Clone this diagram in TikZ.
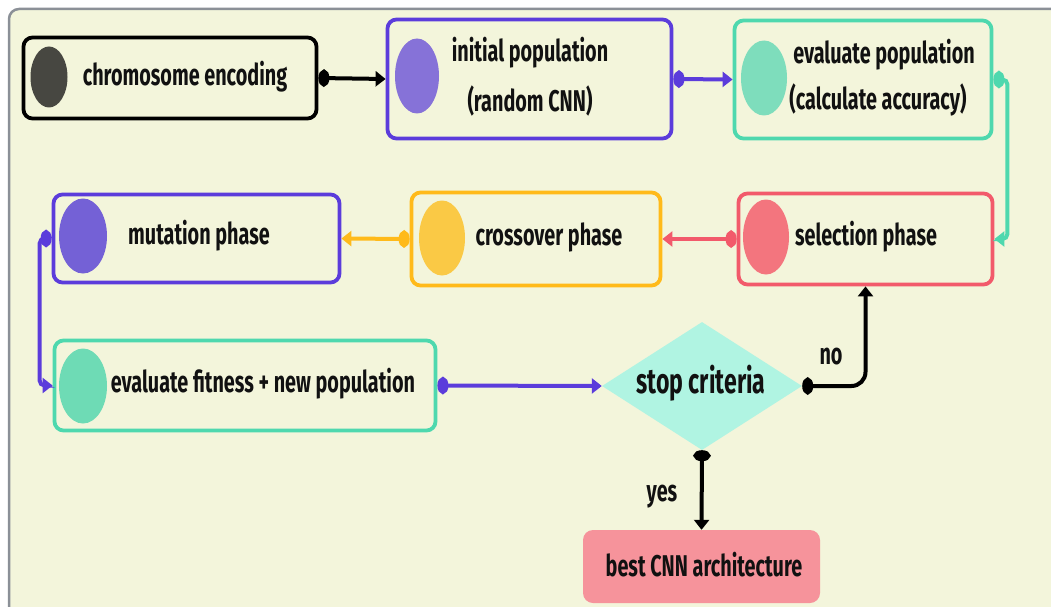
\documentclass[tikz,border=0pt]{standalone}
\usepackage{fontspec}
\setmainfont{Fira Sans}[FakeStretch=0.66]
\usetikzlibrary{arrows.meta,shapes.geometric}

\definecolor{bg}{HTML}{F3F5DB}
\definecolor{framegray}{HTML}{8B9097}
\definecolor{ink}{HTML}{111111}
\definecolor{dark}{HTML}{474741}
\definecolor{violet}{HTML}{5B3CDB}
\definecolor{violetA}{HTML}{8672D8}
\definecolor{violetB}{HTML}{7461D6}
\definecolor{teal}{HTML}{4ED8AE}
\definecolor{tealA}{HTML}{7EDDBC}
\definecolor{tealB}{HTML}{6EDBB5}
\definecolor{coral}{HTML}{F25A6B}
\definecolor{coralA}{HTML}{F3757E}
\definecolor{amber}{HTML}{FFBA1A}
\definecolor{amberA}{HTML}{FAC945}
\definecolor{mint}{HTML}{B0F4E2}
\definecolor{rose}{HTML}{F6939B}

\tikzset{
  stage/.style={draw=#1, line width=3.8pt, rounded corners=9pt, fill=bg, inner sep=0pt},
  blob/.style={ellipse, fill=#1, minimum width=46pt, minimum height=75pt, inner sep=0pt},
  caption/.style={text=ink, font=\fontsize{30}{35}\selectfont\bfseries, align=center, inner sep=0pt},
  link/.style={draw=#1, line width=4pt,
    {Ellipse[length=11pt,width=17pt]}-{Triangle[length=10pt,width=15pt]}},
}

\begin{document}
\begin{tikzpicture}[x=1pt,y=-1pt]
\useasboundingbox (0,0) rectangle (1051,607);
\fill[white] (0,0) rectangle (1051,607);
\begin{scope}
  \clip (0,0) rectangle (1051,607);
  \draw[framegray, line width=2.5pt, fill=bg, rounded corners=10pt] (9,9) rectangle (1080,625);
\end{scope}

% process boxes
\node[stage=black,  minimum width=293pt, minimum height=81pt]  (chrom) at (170,78) {};
\node[stage=violet, minimum width=284pt, minimum height=119pt] (init)  at (529.5,79) {};
\node[stage=teal,   minimum width=257pt, minimum height=118pt] (evalp) at (863,79.5) {};
\node[stage=coral,  minimum width=254pt, minimum height=91pt]  (sel)   at (865.5,239) {};
\node[stage=amber,  minimum width=249pt, minimum height=93pt]  (cross) at (536,239) {};
\node[stage=violet, minimum width=286pt, minimum height=88pt]  (mut)   at (196.5,238.5) {};
\node[stage=teal,   minimum width=381pt, minimum height=90pt]  (fit)   at (245,385.5) {};

% markers
\node[blob=dark,    minimum width=37pt, minimum height=61pt] (chromdot) at (49,77) {};
\node[blob=violetA, minimum width=44pt] (initdot)  at (417,76) {};
\node[blob=tealA]   (evalpdot) at (764,78) {};
\node[blob=coralA]  (seldot)   at (766,237) {};
\node[blob=amberA]  (crossdot) at (442,238) {};
\node[blob=violetB, minimum width=48pt] (mutdot)  at (83,236) {};
\node[blob=tealB,   minimum width=48pt] (fitdot)  at (83,386) {};

% labels
\node[caption] (chromtxt) at (185,77) {chromosome encoding};
\node[caption] (inittxt1) at (530,53) {initial population};
\node[caption] (inittxt2) at (530,101) {(random CNN)};
\node[caption] (evalptxt1) at (884,55) {evaluate population};
\node[caption] (evalptxt2) at (878,100) {(calculate accuracy)};
\node[caption] (seltxt) at (866,237) {selection phase};
\node[caption] (crosstxt) at (549,237) {crossover phase};
\node[caption] (muttxt) at (199,236) {mutation phase};
\node[caption] (fittxt) at (263,384) {evaluate fitness + new population};

% decision and result
\node[diamond, fill=mint, minimum width=200pt, minimum height=128pt, aspect=1.56, inner sep=0pt] (stop) at (702,386) {};
\node[caption, font=\fontsize{35}{41}\selectfont\bfseries] (stoptxt) at (701,383) {stop criteria};
\node[fill=rose, rounded corners=10pt, minimum width=237pt, minimum height=73pt, inner sep=0pt] (best) at (701.5,566.5) {};
\node[caption] (besttxt) at (704,565) {best CNN architecture};

% connectors
\draw[link=black]  (chrom.east) -- (init.west);
\draw[link=violet] (init.east) -- (evalp.west);
\draw[link=teal, rounded corners=5pt] (evalp.east) -- ++(14,0) |- (sel.east);
\draw[link=coral]  (sel.west) -- (cross.east);
\draw[link=amber]  (cross.west) -- (mut.east);
\draw[link=violet, rounded corners=5pt] (mut.west) -- ++(-12,0) |- (fit.west);
\draw[link=violet] (fit.east) -- (stop.west);
\draw[link=black, rounded corners=14pt] (stop.east) -| (sel.south);
\draw[link=black]  (stop.south) -- (best.north);

\node[caption] (notxt) at (831,357) {no};
\node[caption] (yestxt) at (662,497) {yes};
\end{tikzpicture}
\end{document}
